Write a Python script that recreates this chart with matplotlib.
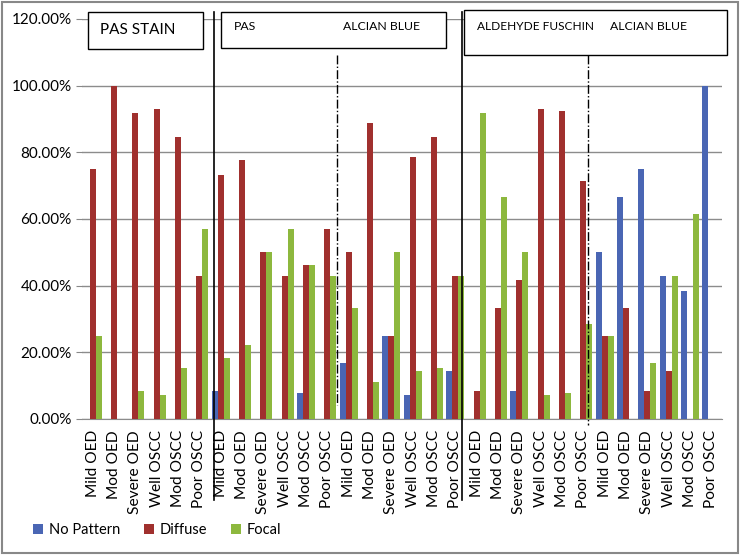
import numpy as np
import matplotlib.pyplot as plt
from matplotlib.patches import Rectangle
import matplotlib.transforms as mtransforms

plt.rcParams['font.family'] = ['Lato', 'DejaVu Sans']

stages = ['Mild OED', 'Mod OED', 'Severe OED', 'Well OSCC', 'Mod OSCC', 'Poor OSCC']
labels = stages * 5

# percentages, 5 stain groups x 6 stages
no_pattern = [0, 0, 0, 0, 0, 0,
              8.3, 0, 0, 0, 7.7, 0,
              16.7, 0, 25, 7.1, 0, 14.3,
              0, 0, 8.3, 0, 0, 0,
              50, 66.7, 75, 42.9, 38.5, 100]
diffuse = [75, 100, 91.7, 92.9, 84.6, 42.9,
           73.3, 77.8, 50, 42.9, 46.2, 57.1,
           50, 88.9, 25, 78.6, 84.6, 42.9,
           8.3, 33.3, 41.7, 92.9, 92.3, 71.4,
           25, 33.3, 8.3, 14.3, 0, 0]
focal = [25, 0, 8.3, 7.1, 15.4, 57.1,
         18.3, 22.2, 50, 57.1, 46.2, 42.9,
         33.3, 11.1, 50, 14.3, 15.4, 42.9,
         91.7, 66.7, 50, 7.1, 7.7, 28.6,
         25, 0, 16.7, 42.9, 61.5, 0]

c_blue = '#4A66B4'
c_red = '#A0302E'
c_green = '#8DB83E'

fig = plt.figure(figsize=(7.4, 5.55), dpi=100)
ax = fig.add_axes([82/740, 1-419/555, 640/740, 400/555])

x = np.arange(len(labels))
w = 0.28
ax.bar(x - w, no_pattern, w, color=c_blue, label='No Pattern', zorder=3)
ax.bar(x, diffuse, w, color=c_red, label='Diffuse', zorder=3)
ax.bar(x + w, focal, w, color=c_green, label='Focal', zorder=3)

ax.set_xlim(-0.5, len(labels) - 0.5)
ax.set_ylim(0, 120)
ax.set_yticks(np.arange(0, 121, 20))
ax.set_yticklabels(['%.2f%%' % v for v in np.arange(0, 121, 20)], fontsize=11)
ax.set_xticks(x)
ax.set_xticklabels(labels, rotation=90, fontsize=11.2)
ax.tick_params(axis='x', length=0, pad=8)
ax.tick_params(axis='y', length=4, color='#888888')
ax.yaxis.grid(True, color='#8c8c8c', linewidth=1, zorder=0)
for s in ['top', 'right', 'left']:
    ax.spines[s].set_visible(False)
ax.spines['bottom'].set_color('#8c8c8c')

# group separators
trans = mtransforms.blended_transform_factory(ax.transData, ax.transAxes)
for xv in [5.68, 17.31]:
    ax.plot([xv, xv], [1.0175, -0.2025], color='black', lw=1.2,
            transform=trans, clip_on=False, zorder=5)
ax.plot([11.45, 11.45], [0.91, 0.035], color='black', lw=1, ls='-.',
        transform=trans, clip_on=False, zorder=5)
ax.plot([23.22, 23.22], [0.91, -0.015], color='black', lw=1, ls='-.',
        transform=trans, clip_on=False, zorder=5)

# stain title boxes (figure pixel coords)
def box(x0, y0, x1, y1):
    fig.patches.append(Rectangle((x0/740, 1-y1/555), (x1-x0)/740, (y1-y0)/555,
                                 transform=fig.transFigure, facecolor='white',
                                 edgecolor='black', lw=1, zorder=6))

box(88, 12, 203, 49)
box(221, 12, 446, 48)
box(464, 10, 727, 55)
fig.text(100/740, 1-30/555, 'PAS STAIN', fontsize=11, va='center', zorder=7)
fig.text(234/740, 1-27/555, 'PAS', fontsize=8.8, va='center', zorder=7)
fig.text(343/740, 1-27/555, 'ALCIAN BLUE', fontsize=8.8, va='center', zorder=7)
fig.text(477/740, 1-26/555, 'ALDEHYDE FUSCHIN', fontsize=8.6, va='center', zorder=7)
fig.text(610/740, 1-26/555, 'ALCIAN BLUE', fontsize=8.8, va='center', zorder=7)

fig.legend(loc='center left', bbox_to_anchor=(20/740, 1-530/555), ncol=3,
           frameon=False, fontsize=10.5, handlelength=0.7, handleheight=0.7,
           handletextpad=0.4, columnspacing=1.6)

fig.patches.append(Rectangle((0.003, 0.004), 0.994, 0.992, transform=fig.transFigure,
                             fill=False, edgecolor='#888888', lw=1.5))

fig.savefig('out.png', dpi=100)
